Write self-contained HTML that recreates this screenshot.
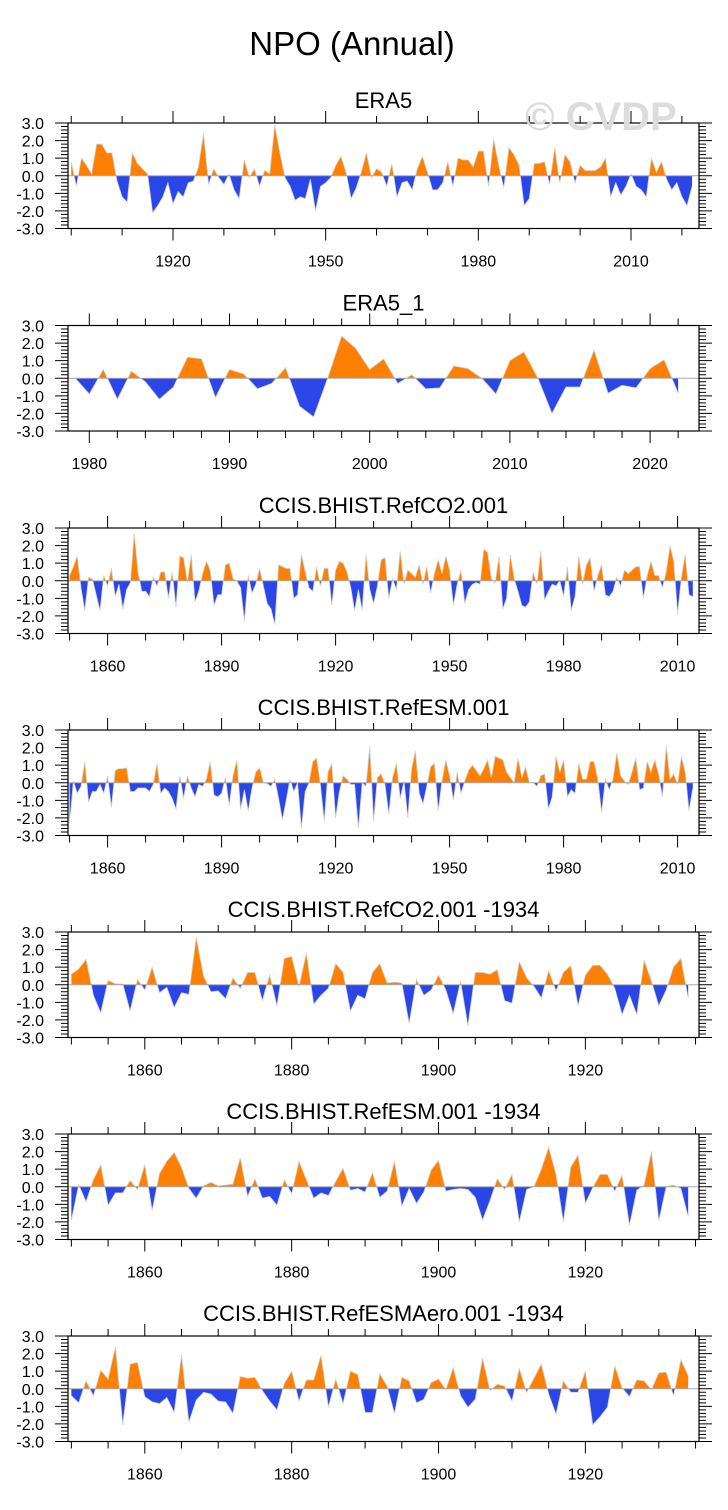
<!DOCTYPE html>
<html><head><meta charset="utf-8"><style>
html,body{margin:0;padding:0;background:#fff;}
svg{display:block;font-family:"Liberation Sans",Arial,sans-serif;}
</style></head><body>
<svg id="chart" width="728" height="1510" viewBox="0 0 728 1510" xmlns="http://www.w3.org/2000/svg">
<text x="352" y="55" font-size="33" text-anchor="middle" fill="#000">NPO (Annual)</text>
<g id="panels"></g>
<text x="525" y="130" font-size="40" font-weight="bold" fill="#dcdcdc">© CVDP</text>
</svg>
<script>
// ---- data ----
const titles = ["ERA5","ERA5_1","CCIS.BHIST.RefCO2.001","CCIS.BHIST.RefESM.001","CCIS.BHIST.RefCO2.001 -1934","CCIS.BHIST.RefESM.001 -1934","CCIS.BHIST.RefESMAero.001 -1934"];
const startYears = [1900,1979,1850,1850,1850,1850,1850];
const yTickLabels = ["3.0","2.0","1.0","0.0","-1.0","-2.0","-3.0"];
const yTickValues = [3,2,1,0,-1,-2,-3];
const xLabelYears1 = [1920,1950,1980,2010];
const xLabelYears2 = [1980,1990,2000,2010,2020];
const xLabelYears3 = [1860,1890,1920,1950,1980,2010];
const xLabelYears5 = [1860,1880,1900,1920];
const era5 = [0.8,-0.6,1.0,0.6,0.1,1.8,1.8,1.3,1.3,-0.3,-1.2,-1.5,1.3,0.7,0.4,0.1,-2.1,-1.7,-1.2,-0.4,
-1.6,-0.9,-1.2,-0.4,-0.3,0.5,2.4,-0.5,0.4,-0.1,-0.5,0.1,-0.8,-1.3,0.9,-0.1,0.4,-0.6,0.3,0.1,
2.9,1.3,-0.1,-0.6,-1.4,-1.2,-1.3,-0.2,-2.0,-0.6,-0.4,-0.1,0.6,1.1,0.2,-1.3,-0.7,0.2,1.3,-0.1,
0.4,0.2,-0.6,0.7,-1.2,-0.4,-0.3,-0.8,0.4,1.1,0.2,-0.8,-0.8,-0.4,0.8,-0.6,1.0,0.9,0.9,0.5,
1.4,1.4,-0.6,2.1,0.6,-0.7,1.6,1.2,0.6,-1.7,-1.3,0.7,0.7,0.8,-0.5,1.6,-0.4,1.2,0.8,-0.4,
0.6,0.3,0.3,0.3,0.5,1.0,-1.2,-0.4,-1.1,-0.6,0.1,-0.6,-0.8,-1.2,1.0,0.2,0.8,-0.2,-0.8,-0.4,
-1.2,-1.7,-0.6];
const era5_1 = [0.0,-0.9,0.5,-1.2,0.4,-0.2,-1.2,-0.5,1.2,1.1,-1.1,0.5,0.25,-0.6,-0.3,0.6,-1.6,-2.2,0.0,2.4,
1.7,0.5,1.1,-0.3,0.2,-0.6,-0.55,0.7,0.55,0.0,-0.9,1.0,1.5,0.0,-2.0,-0.5,-0.5,1.6,-0.85,-0.4,
-0.55,0.55,1.05,-0.85];
const refco2 = [0.3,0.8,1.4,-0.4,-1.7,0.2,0.1,-0.8,-1.7,0.3,-0.3,0.7,-0.9,-0.2,-1.6,-0.5,-0.1,2.7,0.5,-0.6,
-0.6,-0.9,0.2,-0.3,0.5,0.5,-1.0,0.5,-1.5,1.4,1.3,-0.1,1.5,-1.2,-0.6,0.4,1.1,0.6,-1.4,-0.8,
-0.8,0.9,1.0,0.1,0.0,-0.4,-2.3,0.3,-0.7,-0.2,0.7,-0.3,-1.3,-1.6,-2.5,0.9,0.8,0.7,0.7,-1.0,
-0.8,1.5,0.5,-0.4,-0.6,0.8,-0.3,0.7,0.7,-1.4,0.6,1.1,1.0,0.5,-0.4,-1.7,-0.5,-1.7,1.5,-0.5,
-1.3,-0.3,1.2,1.3,-1.0,0.1,-0.5,1.7,-0.2,0.6,0.4,0.2,0.9,-0.2,0.8,-0.7,0.4,1.2,0.4,1.4,
0.6,-1.4,-0.2,0.6,-1.3,-0.5,-0.2,-0.1,-0.2,1.8,1.6,0.1,-0.1,1.4,-1.6,-1.0,1.5,0.1,-0.6,-1.4,
-1.5,-1.2,0.5,-0.2,1.7,-1.1,-0.6,-0.2,-0.3,0.0,-0.9,0.8,-1.7,-0.9,1.4,-0.2,0.9,1.3,-0.6,0.3,
0.9,-0.8,-0.9,-0.6,0.2,-0.3,0.6,0.4,0.6,0.8,0.8,-1.0,0.3,1.1,0.3,0.3,-0.4,0.5,2.0,1.1,
-1.9,0.2,1.5,-0.8,-0.9];
const refesm = [-2.3,0.1,-0.6,-0.2,1.2,-1.1,-0.5,-0.5,-0.1,-0.6,0.4,-1.4,0.7,0.8,0.8,0.85,-0.5,-0.5,-0.3,-0.3,
-0.3,-0.5,-0.1,1.1,-0.6,-0.3,-0.5,-0.9,-1.5,0.4,-0.9,0.4,-0.3,-0.8,-0.1,-0.2,0.2,1.2,-0.7,-0.8,
-0.6,0.3,-1.3,0.4,1.3,-1.5,-0.4,-1.6,-0.3,0.6,0.85,0.0,-0.05,-0.2,0.2,-0.9,-2.1,-1.0,0.2,-0.5,
0.0,-2.6,-0.5,0.0,1.2,1.4,-0.1,-2.2,0.6,1.1,-2.0,-0.5,0.4,0.2,-0.1,-0.1,-2.6,0.0,-0.2,2.1,
-2.2,0.3,0.5,-0.1,-1.8,0.3,1.1,-0.9,0.1,-2.0,0.8,1.8,-0.6,-1.2,-0.2,0.9,1.1,-1.6,0.1,1.3,
0.4,-1.0,0.6,-0.6,0.1,0.7,1.0,0.7,0.4,0.8,1.3,0.3,1.5,1.4,1.3,0.6,0.3,0.0,1.4,0.3,
0.9,0.0,0.0,-0.2,0.4,0.5,-1.5,-0.8,1.5,0.6,1.3,-0.8,-0.4,-0.6,1.1,0.2,0.2,1.2,1.2,0.2,
-1.7,0.2,-0.4,0.2,1.7,0.4,0.1,-0.1,0.6,1.4,-0.4,-0.3,1.2,0.6,1.3,0.5,-0.8,2.1,0.2,0.5,
-0.1,1.5,0.6,-1.6,-0.3];
const refco2_34 = [0.6,0.9,1.45,-0.6,-1.6,0.25,0.05,0.05,-1.5,0.3,-0.3,1.0,-0.45,-0.15,-1.3,-0.45,-0.55,2.7,0.5,-0.4,
-0.35,-0.8,0.4,-0.2,0.7,0.7,-0.9,0.55,-1.2,1.5,1.6,-0.1,1.8,-1.1,-0.6,-0.2,1.2,0.7,-1.5,-0.6,
-0.8,0.7,1.2,0.1,0.15,0.1,-2.2,0.3,-0.6,-0.3,0.55,-0.3,-1.65,0.2,-2.35,0.7,0.7,0.6,0.85,-0.9,
-1.05,1.3,0.4,-0.1,-0.75,0.8,-0.35,0.7,1.1,-1.2,0.55,1.1,1.1,0.6,-0.2,-1.7,-0.6,-1.7,1.4,0.2,
-1.2,-0.3,1.0,1.5,-0.75];
const refesm_34 = [-1.9,0.1,-0.85,0.4,1.25,-1.05,-0.35,-0.35,0.35,-0.15,1.25,-1.35,0.75,1.45,1.95,1.1,-0.1,-0.65,0.05,0.25,
0.05,0.1,0.15,1.65,-0.55,0.45,-0.65,-0.55,-1.05,0.4,-0.4,1.45,0.4,-0.65,-0.35,-0.5,0.3,1.05,-0.2,-0.1,
-0.3,0.8,-0.6,-0.25,1.45,-1.1,-0.1,-0.95,-0.3,0.95,1.5,-0.25,-0.15,-0.1,-0.15,-0.6,-1.9,-0.8,0.45,-0.15,
0.7,-2.0,-0.15,0.0,1.0,2.25,0.7,-2.0,1.1,1.8,-0.95,-0.05,0.7,0.7,-0.25,0.65,-2.2,-0.2,0.1,2.0,
-1.95,0.0,0.1,-0.1,-1.7];
const refesmaero_34 = [-0.4,-0.8,0.45,-0.4,1.05,0.55,2.4,-2.05,1.4,1.5,-0.45,-0.75,-0.85,-0.5,-1.35,1.95,-1.9,-0.65,-0.2,-0.3,
-0.7,-0.75,-1.4,0.7,0.6,0.65,-0.1,-0.7,-1.2,0.3,1.0,-0.7,0.5,0.5,1.9,-1.05,0.55,-0.85,1.0,0.8,
-1.35,-1.35,0.85,0.15,-1.4,0.65,0.45,-0.8,-0.6,0.35,0.55,-0.05,1.2,-0.4,-1.05,-0.6,1.75,-0.1,0.25,0.15,
-0.7,1.15,-0.2,0.6,1.4,-0.3,-1.45,0.45,-0.2,-0.2,1.0,-2.05,-1.6,-1.05,1.3,0.05,-0.45,0.5,0.45,-0.05,
0.9,0.95,-0.4,1.65,0.75];

// ---- layout ----
const seriesList = [era5, era5_1, refco2, refesm, refco2_34, refesm_34, refesmaero_34];
const seriesNames = ["era5","era5-1","refco2","refesm","refco2-1934","refesm-1934","refesmaero-1934"];
const labelYears = [xLabelYears1, xLabelYears2, xLabelYears3, xLabelYears3, xLabelYears5, xLabelYears5, xLabelYears5];
const boxTops = [123, 325.5, 528, 730, 932, 1134, 1336];
const X0 = 68, X1 = 699, BH = 105.5;
// axis: reference year, px position, px per year; minor step, major step
const axisRef = [[1920,173,5.089,10],[1980,89.3,14.02,2],[1860,107.6,3.80,10],[1860,107.6,3.80,10],[1860,144.8,7.343,5],[1860,144.8,7.343,5],[1860,144.8,7.343,5]];

const NS = "http://www.w3.org/2000/svg";
const root = document.getElementById('panels');
function mk(tag, attrs, parent){const e=document.createElementNS(NS,tag);for(const k in attrs)e.setAttribute(k,attrs[k]);(parent||root).appendChild(e);return e;}

seriesList.forEach((vals, p) => {
  const top = boxTops[p], bot = top + BH;
  const ar = axisRef[p];
  const xs = yr => ar[1] + (yr - ar[0]) * ar[2];
  const ys = v => top + (3 - v) / 6 * BH;
  const zero = ys(0);
  const g = mk('g', {});
  
  

  const t = mk('text', {x: (X0 + X1) / 2, y: top - 15, 'font-size': 22, 'text-anchor': 'middle', fill: '#000'}, g);
  t.textContent = titles[p];
  
  

  // clips
  const cid = 'c' + p;
  const defs = mk('defs', {}, g);
  const cu = mk('clipPath', {id: cid + 'u'}, defs);
  mk('rect', {x: X0, y: top, width: X1 - X0, height: zero - top}, cu);
  const cd = mk('clipPath', {id: cid + 'd'}, defs);
  mk('rect', {x: X0, y: zero, width: X1 - X0, height: bot - zero}, cd);

  let pts = [];
  vals.forEach((v, i) => { pts.push(xs(startYears[p] + i).toFixed(2) + ',' + ys(v).toFixed(2)); });
  const x0 = xs(startYears[p]).toFixed(2), xn = xs(startYears[p] + vals.length - 1).toFixed(2);
  const area = 'M' + x0 + ',' + zero + ' L' + pts.join(' L') + ' L' + xn + ',' + zero + ' Z';
  const up = mk('path', {d: area, fill: '#ff8000', 'clip-path': 'url(#' + cid + 'u)'}, g);
  
  
  const dn = mk('path', {d: area, fill: '#2a45e8', 'clip-path': 'url(#' + cid + 'd)'}, g);
  
  
  const ln = mk('polyline', {points: pts.join(' '), fill: 'none', stroke: '#d0d0d0', 'stroke-width': 0.8}, g);
  
  
  const zl = mk('line', {x1: X0, x2: X1, y1: zero, y2: zero, stroke: '#aaa', 'stroke-width': 1}, g);
  
  

  // ticks
  let tk = '';
  for (let k = 0; k <= 30; k++) {
    const v = 3 - k * 0.2, y = ys(v).toFixed(2);
    const major = k % 5 === 0;
    const L = major ? 13 : 7;
    tk += 'M' + X0 + ',' + y + 'h-' + L + 'M' + X1 + ',' + y + 'h' + L;
  }
  const yrMin = (X0 - ar[1]) / ar[2] + ar[0], yrMax = (X1 - ar[1]) / ar[2] + ar[0];
  const labs = labelYears[p];
  const step = labs[1] - labs[0];
  for (let yr = Math.ceil(yrMin / ar[3]) * ar[3]; yr <= yrMax; yr += ar[3]) {
    const x = xs(yr).toFixed(2);
    const major = ((yr - labs[0]) % step + step) % step === 0;
    const L = major ? 12 : 7;
    tk += 'M' + x + ',' + bot + 'v' + L + 'M' + x + ',' + top + 'v-' + L;
  }
  const tp = mk('path', {d: tk, stroke: '#000', 'stroke-width': 1, fill: 'none'}, g);
  
  
  const box = mk('rect', {x: X0, y: top, width: X1 - X0, height: BH, fill: 'none', stroke: '#000', 'stroke-width': 1.2}, g);
  
  

  yTickValues.forEach((v, i) => {
    const tt = mk('text', {x: 44, y: ys(v) + 6, 'font-size': 16, 'text-anchor': 'end', fill: '#000'}, g);
    tt.textContent = yTickLabels[i];
    
    
  });
  labs.forEach(yr => {
    const tt = mk('text', {x: xs(yr), y: bot + 38, 'font-size': 16, 'text-anchor': 'middle', fill: '#000'}, g);
    tt.textContent = String(yr);
    
    
  });
});
</script>
</body></html>
